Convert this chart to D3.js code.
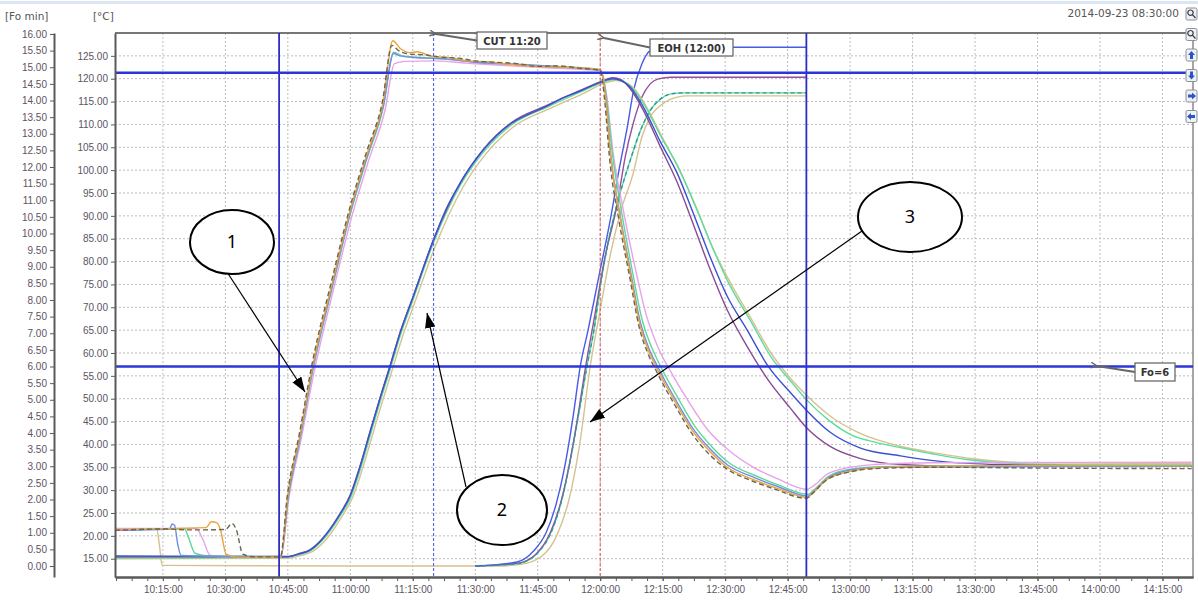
<!doctype html>
<html lang="en">
  <head>
    <meta charset="utf-8">
    <title>Sterilisation run 2014-09-23</title>
    <script src="https://d3js.org/d3.v7.min.js"></script>
    <style>
    body { margin: 0; background: #fff; }
    svg { display: block; font-family: "DejaVu Sans", sans-serif; }
    .axis path, .axis line { stroke: #5a5a5a; }
    .axis path { stroke-width: 2; }
    .axis .tick text { fill: #5c5462; font-size: 10px; }
    .grid line { stroke: #bdbdbd; stroke-dasharray: 2,2; }
    .series { fill: none; stroke-width: 1.4; stroke-linejoin: round; }
    .note rect { fill: #fff; stroke: #6a6a6a; stroke-width: 1.3; }
    .note text { font-size: 10px; font-weight: bold; fill: #333; text-anchor: middle; }
    .callout ellipse { fill: #fff; stroke: #000; stroke-width: 2; }
    .callout text { font-family: "Noto Sans", sans-serif; font-size: 18px; text-anchor: middle; }
    </style>
  </head>

  <body>
    <svg width="1198" height="600"></svg>

    <script>
      // times are minutes after 10:00:00, temperatures in degC, Fo in minutes
      var stamp = '2014-09-23 08:30:00';
      var tempTicks = d3.range(15, 126, 5);
      var foTicks = d3.range(0, 16.01, 0.5);

      // fast probes (callout 1)
      var g1Orange = [[3.5,21.4],[25.4,21.8],[26.6,23.1],[27.9,22.9],[28.8,21.4],[30.2,16.0],[33,15.3],[43.3,15.3],[45,28.8],[47.9,42],[51,57.3],[55.8,75.8],[59.9,91],[64,103.5],[67.8,114.5],[70.2,128.3],[72,126.6],[74.3,125.7],[76,125.9],[80,124.8],[84,124.6],[88,123.9],[93,123.7],[98.4,123.1],[107.2,122.6],[114,122.4],[120,122],[121.3,116],[122.4,104],[124.8,89.5],[127.2,77.5],[129.6,66],[131.6,60.5],[133.7,56.5],[138.5,48.5],[142.3,42.8],[146.4,38.4],[150.5,35],[156.8,32.3],[162.5,30.4],[169.7,28.4],[171.3,29.6],[174.5,32.4],[180,34.1],[186,34.9],[195,35.2],[230,35.4],[262,35.3]];
      var g1Brown = [[3.5,21.2],[15,21.5],[22,21.3],[30,21.4],[31.6,22.7],[32.6,21.4],[34.2,16.0],[37,15.4],[43.2,15.4],[44.9,29],[47.8,42.5],[50.9,58],[55.7,76.5],[59.8,91.5],[63.9,104],[67.7,115],[70.0,127.3],[71.5,126.2],[74,125.4],[78,125.2],[82,124.7],[86,124.5],[90,123.9],[95,123.6],[100,123.3],[105,122.7],[110,122.8],[115,122.3],[120,121.8],[121.1,115],[122.2,103],[124.5,89],[127,77],[129.4,65.5],[131.4,60],[133.5,56],[138.3,48],[142,42.4],[146,38],[150.3,34.7],[156.5,32],[162.3,30.1],[169.5,28.2],[171,29.3],[174.3,32.2],[180,34],[186,34.7],[200,35],[230,34.8],[262,34.7]];
      var g1Pink = [[3.5,21.6],[23.0,21.6],[24.6,19.2],[26.3,15.8],[30,15.4],[43.4,15.6],[45.2,28],[48.2,41.2],[51.4,56.3],[56.2,74.8],[60.4,90],[64.5,102.4],[68.3,113],[70.6,123.3],[73,123.8],[80,123.9],[88,123.4],[98.4,122.8],[107.2,122.4],[120,121.8],[121.6,116],[123,104.5],[125.6,91],[128.3,79],[131,68.5],[134,61],[137.2,55.5],[141.5,49],[146,43],[150.5,39],[156.8,35],[162.5,32.5],[169.7,30.2],[171.3,31],[174.5,33.5],[180,35],[186,35.6],[200,36],[262,36.1]];
      var g1Blue = [[3.5,21.2],[16.6,21.5],[17.2,22.6],[17.8,22.3],[18.6,18],[19.4,15.7],[30,15.5],[43.3,15.4],[45.1,28.6],[48,41.8],[51.1,57],[55.9,75.5],[60,90.8],[64.1,103.2],[67.9,114],[70.4,125.5],[72,125],[76,124.6],[82,124.4],[90,123.6],[100,123.1],[110,122.6],[120,121.9],[121.4,115.5],[122.5,103.5],[124.9,89.5],[127.3,77.8],[129.7,66.5],[131.7,61],[133.8,57],[138.6,49],[142.4,43.3],[146.5,38.9],[150.6,35.5],[156.9,32.8],[162.6,30.8],[169.8,28.7],[171.4,29.8],[174.6,32.6],[180,34.4],[188,35],[262,35.2]];
      var g1Green = [[3.5,21.3],[20.2,21.5],[21,20],[22.7,16.2],[26,15.6],[43.3,15.5],[45.1,28.3],[48,41.5],[51.1,56.7],[55.9,75.2],[60,90.4],[64.1,102.8],[67.9,113.6],[70.4,125.8],[72.5,125],[76,124.7],[84,124.2],[92,123.5],[100,123.2],[110,122.7],[120,122],[121.5,116],[122.8,104.5],[125.2,90.5],[127.6,78.5],[130,67.5],[132,62],[134.1,57.8],[138.9,49.8],[142.7,44],[146.8,39.5],[150.9,36],[157.2,33.2],[162.9,31.1],[169.9,29.1],[171.5,30.2],[174.8,33],[180,34.6],[190,35.2],[262,35.5]];

      // slow probes (callout 2)
      var g2Blue = [[3.5,15.6],[44.8,15.5],[47.5,16],[50.3,16.9],[53,19],[55.1,21.4],[57.5,24.7],[59.9,28.6],[62.3,35],[64.7,42.6],[67.1,50],[69.5,57],[71.9,64.3],[75.1,72.4],[79.9,84.6],[83,91.5],[86.4,97.2],[91.9,104.4],[98.6,110.2],[103,112.3],[107.2,114],[111,115.8],[115.2,117.3],[120,119.2],[123.1,120],[125,119.6],[127.2,118.2],[130.3,113.9],[134.4,106.3],[138.5,99.3],[142.3,90.7],[146.4,81],[150.5,72.4],[155.3,65],[160.4,57],[165.6,51.4],[169.5,47.5],[175.3,42.6],[182.5,39.2],[192.1,37.5],[201.7,36.3],[216,35.6],[240,35.3],[262,35.2]];
      var g2Purple = [[3.5,15.4],[44.8,15.4],[47.6,16.1],[50.4,17],[53.1,19.2],[55.2,21.6],[57.6,25],[60,29],[62.4,35.5],[64.8,43],[67.2,50.4],[69.6,57.4],[72,64.6],[75.2,72.6],[80,84.8],[86.5,97.4],[92,104.6],[98.7,110.4],[107.3,114.2],[115.3,117.5],[120,119.3],[123,120.2],[125,119.8],[127.2,117.8],[130.3,113.2],[134.4,105.2],[138.5,97.3],[142.3,88.3],[146.4,78.3],[150.5,69.4],[155.3,61.4],[160.4,54],[165.6,48],[169.5,43.7],[175.3,39.5],[182.5,36.9],[192.1,35.6],[205,35.2],[262,35.3]];
      var g2Green = [[3.5,15.2],[44.9,15.3],[47.6,15.9],[50.4,16.7],[53.1,18.8],[55.2,21.1],[57.6,24.4],[60,28.2],[62.4,34.5],[64.8,42],[67.2,49.5],[69.6,56.5],[72,63.8],[75.2,72],[80,84.2],[86.5,96.8],[92,104],[98.7,109.9],[107.3,113.8],[115.3,117.1],[120,119],[123.3,119.8],[125.2,119.5],[127.5,118.2],[130.6,114.3],[134.8,107],[139,100.2],[142.8,92.2],[147,83],[151,75],[155.8,67.5],[161.5,58.5],[165.6,54],[169.5,49.8],[175.3,45],[180.5,42],[186,40.5],[192.1,39.3],[200,37.9],[208,36.7],[220,35.8],[240,35.5],[262,35.4]];
      var g2Tan = [[3.5,15.0],[45.2,15.1],[48,15.7],[51,16.6],[53.6,18.6],[55.7,21],[58.1,24.4],[60.5,28.3],[62.9,34.6],[65.3,42],[67.7,49.4],[70.1,56.4],[72.5,63.5],[75.7,71.6],[80.5,83.6],[87,96.2],[92.5,103.5],[99.2,109.5],[108,113.5],[116,116.8],[120.5,118.8],[123.8,119.6],[126,119.2],[128,118],[131,114],[135,107],[139,100],[143,92],[147,83],[151.3,75.3],[156.2,67.6],[161,60],[165,55.2],[169.5,50.8],[175.5,46],[182,42.6],[192.1,39.6],[200,38.2],[210,36.8],[222,36],[262,35.8]];

      // Fo curves (callout 3), read on the Fo axis
      var foBlue = [[90,0.0],[100,0.12],[104,0.45],[107,1.0],[109.5,1.9],[111.5,3.0],[113.5,4.5],[115.2,6.0],[117.1,7.1],[119.5,8.6],[122.4,10.4],[124.5,11.9],[126.5,13.2],[128,14.3],[130,15.1],[132,15.5],[134.4,15.6],[169.5,15.6]];
      var foPurple = [[90,0.0],[100,0.08],[104.5,0.35],[108,1.0],[110.5,1.9],[112.5,3.0],[114.5,4.4],[116.5,6.0],[118.5,7.4],[121,9.2],[124.1,10.9],[126,12.3],[127.9,13.3],[130,14.1],[132,14.5],[134,14.65],[137,14.7],[169.5,14.7]];
      var foGreen = [[90,0.0],[100,0.07],[105,0.4],[108.5,1.1],[111,2.1],[113,3.3],[115,4.7],[116.8,6.0],[118.5,7.1],[120,8.4],[122,9.8],[124.1,10.9],[127.2,12.2],[130,13.2],[132,13.7],[134.5,14.05],[137,14.2],[140,14.23],[169.5,14.23]];
      var foTan = [[3.5,1.1],[13.5,1.12],[14.2,0.6],[14.8,0.02],[60,0.0],[95,0.0],[101,0.05],[106,0.3],[109.5,0.9],[112.5,2.0],[115,3.6],[117.6,6.0],[120,7.7],[122.5,9.4],[125,10.7],[127.9,11.8],[130,12.9],[132,13.5],[135,13.9],[138.5,14.1],[141,14.14],[169.5,14.14]];

      // reference markers
      var solidTimes = [42.9, 169.5];
      var cutTime = 80;     // 11:20
      var eohTime = 120;    // 12:00
      var tempLimit = 121.3;
      var foLimit = 6;
      var noteTexts = ['CUT 11:20', 'EOH (12:00)', 'Fo=6'];
      var calloutTexts = ['1', '2', '3'];

      var svg = d3.select('svg');
      var t0 = new Date(2014, 8, 23, 10, 0, 0).getTime();
      var toDate = function(m){ return new Date(t0 + m * 60000); };

      var pL = 115, pR = 1193, pT = 33, pB = 577;

      var xScale = d3.scaleTime()
        .domain([toDate(3.5), toDate(262.33)])
        .range([pL, pR]);
      var yTemp = d3.scaleLinear().domain([11, 130]).range([pB, pT]);
      var yFo = d3.scaleLinear().domain([-0.33, 16.03]).range([pB, pT]);

      // window strip + header texts
      svg.append('rect').attr('x', 0).attr('y', 1).attr('width', 1198).attr('height', 3).attr('fill', '#dbe6f2');
      svg.append('text').attr('x', 1179).attr('y', 17).attr('text-anchor', 'end')
        .attr('font-size', 10.5).attr('fill', '#555').text(stamp);
      svg.append('text').attr('x', 5).attr('y', 20).attr('font-size', 10.5).attr('fill', '#555').text('[Fo min]');
      svg.append('text').attr('x', 93).attr('y', 20).attr('font-size', 10.5).attr('fill', '#555').text('[°C]');

      // grid
      var xTicks = xScale.ticks(d3.timeMinute.every(15));
      svg.append('g').attr('class', 'grid').selectAll('line').data(xTicks)
        .enter().append('line')
          .attr('x1', function(d){ return xScale(d); }).attr('x2', function(d){ return xScale(d); })
          .attr('y1', pT).attr('y2', pB);
      svg.append('g').attr('class', 'grid').selectAll('line').data(tempTicks)
        .enter().append('line')
          .attr('x1', pL).attr('x2', pR)
          .attr('y1', function(d){ return yTemp(d); }).attr('y2', function(d){ return yTemp(d); });

      // plot frame
      svg.append('line').attr('x1', pL).attr('x2', pR).attr('y1', pT).attr('y2', pT)
        .attr('stroke', '#777').attr('stroke-width', 2);
      svg.append('line').attr('x1', pR).attr('x2', pR).attr('y1', pT).attr('y2', pB)
        .attr('stroke', '#888').attr('stroke-width', 1.5);

      // curves
      var tempLine = d3.line()
        .x(function(d){ return xScale(toDate(d[0])); })
        .y(function(d){ return yTemp(d[1]); })
        .curve(d3.curveMonotoneX);
      var foLine = d3.line()
        .x(function(d){ return xScale(toDate(d[0])); })
        .y(function(d){ return yFo(d[1]); })
        .curve(d3.curveMonotoneX);

      var foSeries = [
        {data: foTan, color: '#d6c290'},
        {data: foGreen, color: '#5ddc9c'},
        {data: foPurple, color: '#94509c'},
        {data: foBlue, color: '#4a5ae6'},
        {data: foGreen, color: '#2f9a98', dash: '4,3'}
      ];
      var tempSeries = [
        {data: g2Tan, color: '#d6c290'},
        {data: g2Green, color: '#5ddc9c'},
        {data: g2Purple, color: '#8a4a92'},
        {data: g2Blue, color: '#3a50d2', width: 1.8},
        {data: g1Pink, color: '#e7a2ea'},
        {data: g1Green, color: '#62d69a'},
        {data: g1Blue, color: '#6f8ee6'},
        {data: g1Orange, color: '#e9a33c', width: 1.6},
        {data: g1Brown, color: '#6e6550', dash: '5,3'}
      ];

      svg.append('g').selectAll('path').data(foSeries)
        .enter().append('path')
          .attr('class', 'series')
          .attr('d', function(d){ return foLine(d.data); })
          .attr('stroke', function(d){ return d.color; })
          .attr('stroke-dasharray', function(d){ return d.dash || null; });
      svg.append('g').selectAll('path').data(tempSeries)
        .enter().append('path')
          .attr('class', 'series')
          .attr('d', function(d){ return tempLine(d.data); })
          .attr('stroke', function(d){ return d.color; })
          .attr('stroke-width', function(d){ return d.width || 1.4; })
          .attr('stroke-dasharray', function(d){ return d.dash || null; });

      // reference lines
      var refs = svg.append('g');
      refs.selectAll('line.solid').data(solidTimes)
        .enter().append('line').attr('class', 'solid')
          .attr('x1', function(d){ return xScale(toDate(d)); }).attr('x2', function(d){ return xScale(toDate(d)); })
          .attr('y1', pT).attr('y2', pB)
          .attr('stroke', '#2b2fc4').attr('stroke-width', 1.8);
      refs.append('line')
        .attr('x1', xScale(toDate(cutTime))).attr('x2', xScale(toDate(cutTime)))
        .attr('y1', pT).attr('y2', pB)
        .attr('stroke', '#4050f0').attr('stroke-width', 1).attr('stroke-dasharray', '3,2');
      refs.append('line')
        .attr('x1', xScale(toDate(eohTime))).attr('x2', xScale(toDate(eohTime)))
        .attr('y1', pT).attr('y2', pB)
        .attr('stroke', '#e45454').attr('stroke-width', 1).attr('stroke-dasharray', '3,2');
      refs.append('line')
        .attr('x1', pL).attr('x2', pR)
        .attr('y1', yTemp(tempLimit)).attr('y2', yTemp(tempLimit))
        .attr('stroke', '#2b35d8').attr('stroke-width', 2.6);
      refs.append('line')
        .attr('x1', pL).attr('x2', pR)
        .attr('y1', yFo(foLimit)).attr('y2', yFo(foLimit))
        .attr('stroke', '#2b35d8').attr('stroke-width', 2.6);

      // axes
      var minorTicks = d3.range(3.75, 262, 3.75).map(toDate);
      svg.append('g').attr('class', 'axis')
        .attr('transform', 'translate(0,' + pB + ')')
        .call(d3.axisBottom(xScale).tickValues(minorTicks).tickFormat('').tickSize(4).tickSizeOuter(0));
      svg.append('g').attr('class', 'axis')
        .attr('transform', 'translate(0,' + pB + ')')
        .call(d3.axisBottom(xScale).tickValues(xTicks).tickFormat(d3.timeFormat('%H:%M:%S')).tickSize(4).tickSizeOuter(0))
        .selectAll('text').attr('dy', '0.9em');
      svg.append('g').attr('class', 'axis')
        .attr('transform', 'translate(' + pL + ',0)')
        .call(d3.axisLeft(yTemp).tickValues(tempTicks).tickFormat(d3.format('.2f')).tickSize(4).tickSizeOuter(0));
      svg.append('g').attr('class', 'axis')
        .attr('transform', 'translate(54,0)')
        .call(d3.axisLeft(yFo).tickValues(foTicks).tickFormat(d3.format('.2f')).tickSize(4).tickSizeOuter(0));

      // arrowheads
      var defs = svg.append('defs');
      defs.append('marker').attr('id', 'grayhead')
        .attr('viewBox', '0 0 10 10').attr('refX', 1).attr('refY', 5)
        .attr('markerWidth', 7).attr('markerHeight', 7).attr('orient', 'auto')
        .attr('markerUnits', 'userSpaceOnUse')
        .append('path').attr('d', 'M10,1 L1,5 L10,9').attr('fill', 'none').attr('stroke', '#666').attr('stroke-width', 2);
      defs.append('marker').attr('id', 'blackhead')
        .attr('viewBox', '0 0 14 10').attr('refX', 14).attr('refY', 5)
        .attr('markerWidth', 15).attr('markerHeight', 11).attr('orient', 'auto')
        .attr('markerUnits', 'userSpaceOnUse')
        .append('path').attr('d', 'M0,0 L14,5 L0,10 Z').attr('fill', '#000');

      // annotation boxes
      var notes = [
        {text: noteTexts[0], x: 477, y: 32, w: 70, h: 17, ax: 436, ay: 34},
        {text: noteTexts[1], x: 650, y: 39, w: 83, h: 17, ax: 604, ay: 38},
        {text: noteTexts[2], x: 1135, y: 363, w: 40, h: 18, ax: 1097, ay: 366}
      ];
      var note = svg.append('g').selectAll('g').data(notes).enter().append('g').attr('class', 'note');
      note.append('line')
        .attr('x1', function(d){ return d.x; }).attr('y1', function(d){ return d.y + d.h / 2; })
        .attr('x2', function(d){ return d.ax; }).attr('y2', function(d){ return d.ay; })
        .attr('stroke', '#666').attr('stroke-width', 2).attr('marker-end', 'url(#grayhead)');
      note.append('rect')
        .attr('x', function(d){ return d.x; }).attr('y', function(d){ return d.y; })
        .attr('width', function(d){ return d.w; }).attr('height', function(d){ return d.h; });
      note.append('text')
        .attr('x', function(d){ return d.x + d.w / 2; }).attr('y', function(d){ return d.y + d.h / 2 + 4; })
        .text(function(d){ return d.text; });

      // numbered callouts
      var callouts = [
        {text: calloutTexts[0], cx: 232, cy: 242, rx: 42, ry: 32, arrows: [[227, 272, 305, 392]]},
        {text: calloutTexts[1], cx: 502, cy: 510, rx: 45, ry: 35, arrows: [[466, 487, 427, 313]]},
        {text: calloutTexts[2], cx: 910, cy: 217, rx: 52, ry: 35, arrows: [[862, 231, 590, 422]]}
      ];
      var co = svg.append('g').selectAll('g').data(callouts).enter().append('g').attr('class', 'callout');
      co.selectAll('line').data(function(d){ return d.arrows; })
        .enter().append('line')
          .attr('x1', function(a){ return a[0]; }).attr('y1', function(a){ return a[1]; })
          .attr('x2', function(a){ return a[2]; }).attr('y2', function(a){ return a[3]; })
          .attr('stroke', '#000').attr('stroke-width', 1.2).attr('marker-end', 'url(#blackhead)');
      co.append('ellipse')
        .attr('cx', function(d){ return d.cx; }).attr('cy', function(d){ return d.cy; })
        .attr('rx', function(d){ return d.rx; }).attr('ry', function(d){ return d.ry; });
      co.append('text')
        .attr('x', function(d){ return d.cx; }).attr('y', function(d){ return d.cy + 6; })
        .text(function(d){ return d.text; });

      // toolbar buttons on the right
      var buttons = ['zin', 'zout', 'up', 'down', 'right', 'left'];
      var btn = svg.append('g').selectAll('g').data(buttons).enter().append('g')
        .attr('transform', function(d, i){ return 'translate(1186,' + (8 + i * 20.5) + ')'; });
      btn.append('rect').attr('width', 11).attr('height', 12).attr('rx', 1.5)
        .attr('fill', '#eef0f4').attr('stroke', '#8a8f98');
      btn.append('path')
        .attr('d', function(d){
          if (d === 'up') return 'M5.5,2 L9,6 L7,6 L7,10 L4,10 L4,6 L2,6 Z';
          if (d === 'down') return 'M5.5,10 L9,6 L7,6 L7,2 L4,2 L4,6 L2,6 Z';
          if (d === 'right') return 'M10,6 L6,2.5 L6,4.5 L2,4.5 L2,7.5 L6,7.5 L6,9.5 Z';
          if (d === 'left') return 'M1,6 L5,2.5 L5,4.5 L9,4.5 L9,7.5 L5,7.5 L5,9.5 Z';
          return 'M4.5,2 A2.7,2.7 0 1,1 4.49,2 M6.4,6.6 L9.5,10';
        })
        .attr('fill', function(d){ return d.indexOf('z') === 0 ? 'none' : '#2a55c8'; })
        .attr('stroke', function(d){ return d.indexOf('z') === 0 ? '#334' : 'none'; })
        .attr('stroke-width', 1.2);
    </script>
  </body>
</html>
